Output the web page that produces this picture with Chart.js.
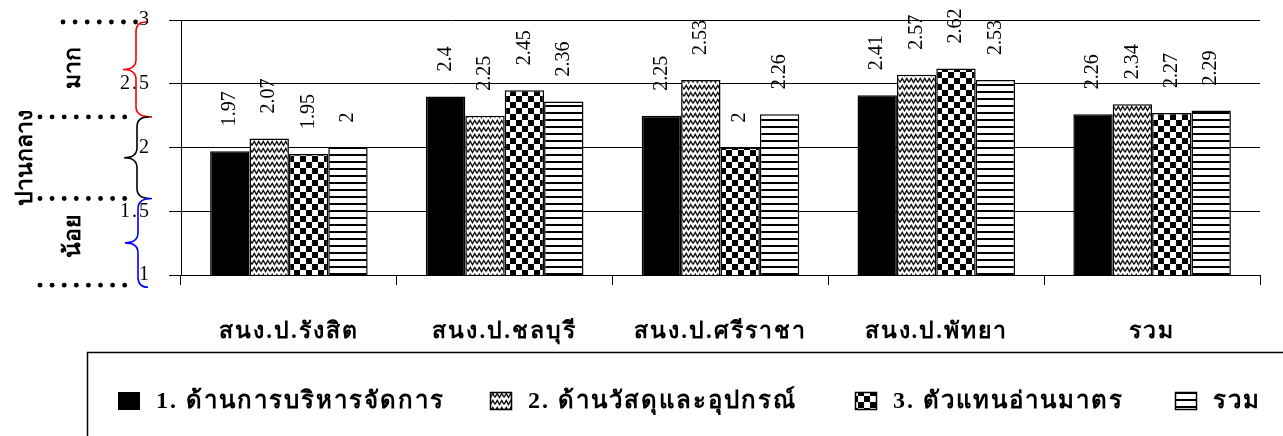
<!DOCTYPE html>
<html>
<head>
<meta charset="utf-8">
<script src="https://cdn.jsdelivr.net/npm/chart.js@4/dist/chart.umd.min.js"></script>
<style>
  html, body { margin: 0; padding: 0; background: #fff; }
  #wrap { width: 1283px; height: 436px; }
</style>
</head>
<body>
<div id="wrap"><canvas id="c" width="1283" height="436"></canvas></div>
<script>
// Offices and satisfaction scores per aspect
const categories = ['สนง.ป.รังสิต', 'สนง.ป.ชลบุรี', 'สนง.ป.ศรีราชา', 'สนง.ป.พัทยา', 'รวม'];
const seriesNames = ['1. ด้านการบริหารจัดการ', '2. ด้านวัสดุและอุปกรณ์', '3. ตัวแทนอ่านมาตร', 'รวม'];
const management = [1.97, 2.4, 2.25, 2.41, 2.26];
const materials = [2.07, 2.25, 2.53, 2.57, 2.34];
const meterReaders = [1.95, 2.45, 2, 2.62, 2.27];
const overall = [2, 2.36, 2.26, 2.53, 2.29];
const yTicks = [1, 1.5, 2, 2.5, 3];

// Interpretation bands shown beside the value axis
const levelNames = ['มาก', 'ปานกลาง', 'น้อย'];
const levelBounds = [3, 2.24, 1.6, 0.92];
const levelColors = ['#ff0000', '#000000', '#0000ff'];

const SERIF = "'Liberation Serif', 'Times New Roman', serif";

// ---- fill patterns ----
function makeTile(w, h, draw) {
  const c = document.createElement('canvas');
  c.width = w; c.height = h;
  const g = c.getContext('2d');
  g.fillStyle = '#fff';
  g.fillRect(0, 0, w, h);
  draw(g);
  return c;
}
const ctx0 = document.getElementById('c').getContext('2d');
const waveTile = makeTile(9, 7, g => {
  g.strokeStyle = '#111';
  g.lineWidth = 1.4;
  g.beginPath();
  g.moveTo(0, 5.5); g.lineTo(2.25, 1.5); g.lineTo(4.5, 5.5); g.lineTo(6.75, 1.5); g.lineTo(9, 5.5);
  g.stroke();
});
const checkTile = makeTile(12, 12, g => {
  g.fillStyle = '#000';
  g.fillRect(0, 0, 6, 6);
  g.fillRect(6, 6, 6, 6);
});
const stripeTile = makeTile(8, 7, g => {
  g.fillStyle = '#000';
  g.fillRect(0, 0, 8, 2);
});
const fills = [
  '#000000',
  ctx0.createPattern(waveTile, 'repeat'),
  ctx0.createPattern(checkTile, 'repeat'),
  ctx0.createPattern(stripeTile, 'repeat')
];
const seriesValues = [management, materials, meterReaders, overall];

// ---- plugins ----
const valueLabels = {
  id: 'valueLabels',
  afterDatasetsDraw(chart) {
    const ctx = chart.ctx;
    ctx.save();
    ctx.font = '20px ' + SERIF;
    ctx.fillStyle = '#000';
    ctx.textAlign = 'left';
    ctx.textBaseline = 'middle';
    chart.data.datasets.forEach((ds, i) => {
      chart.getDatasetMeta(i).data.forEach((bar, j) => {
        ctx.save();
        ctx.translate(bar.x, bar.y - 25);
        ctx.rotate(-Math.PI / 2);
        ctx.fillText(String(ds.data[j]), 0, 0);
        ctx.restore();
      });
    });
    ctx.restore();
  }
};

function brace(ctx, yTop, yBot, stemX, tipX, endTopX, endBotX) {
  const mid = (yTop + yBot) / 2;
  const r = 10;
  ctx.beginPath();
  ctx.moveTo(endTopX, yTop);
  ctx.quadraticCurveTo(stemX, yTop, stemX, yTop + r);
  ctx.lineTo(stemX, mid - r);
  ctx.quadraticCurveTo(stemX, mid, tipX, mid);
  ctx.quadraticCurveTo(stemX, mid, stemX, mid + r);
  ctx.lineTo(stemX, yBot - r);
  ctx.quadraticCurveTo(stemX, yBot, endBotX, yBot);
  ctx.stroke();
}

const levelBands = {
  id: 'levelBands',
  afterDraw(chart) {
    const ctx = chart.ctx;
    const y = chart.scales.y;
    ctx.save();
    // dotted guide rows
    ctx.fillStyle = '#000';
    levelBounds.forEach((v, i) => {
      const py = y.getPixelForValue(v);
      const startX = i === 0 ? 63 : 40;
      const n = i === 0 ? 7 : 8;
      for (let k = 0; k < n; k++) {
        ctx.beginPath();
        ctx.arc(startX + k * 12.1, py + (i === 0 ? 2 : 0), 2.4, 0, Math.PI * 2);
        ctx.fill();
      }
    });
    // braces
    ctx.lineWidth = 1.6;
    levelNames.forEach((name, i) => {
      const t = y.getPixelForValue(levelBounds[i]) + (i === 0 ? 2 : 0);
      const b = y.getPixelForValue(levelBounds[i + 1]) + (i === 2 ? 2 : 0);
      ctx.strokeStyle = levelColors[i];
      brace(ctx, t, b, 136 + i, 123 + i, 146 + 3 * i, 152 - i * 2);
    });
    // band names
    ctx.fillStyle = '#000';
    ctx.font = 'bold 23px ' + SERIF;
    ctx.textAlign = 'center';
    ctx.textBaseline = 'middle';
    const nameX = [74, 26, 74];
    levelNames.forEach((name, i) => {
      const t = y.getPixelForValue(levelBounds[i]);
      const b = y.getPixelForValue(levelBounds[i + 1]);
      ctx.save();
      ctx.translate(nameX[i], (t + b) / 2 - (i === 2 ? 5 : 0));
      ctx.rotate(-Math.PI / 2);
      ctx.fillText(name, 0, 0);
      ctx.restore();
    });
    ctx.restore();
  }
};

const boxedLegend = {
  id: 'boxedLegend',
  afterDraw(chart) {
    const ctx = chart.ctx;
    ctx.save();
    ctx.strokeStyle = '#000';
    ctx.lineWidth = 1.5;
    ctx.beginPath();
    ctx.moveTo(87.5, 440);
    ctx.lineTo(87.5, 352.5);
    ctx.lineTo(1290, 352.5);
    ctx.stroke();
    const iconX = [118, 490, 855, 1175];
    ctx.font = 'bold 24px ' + SERIF;
    ctx.letterSpacing = '2px';
    ctx.textAlign = 'left';
    ctx.textBaseline = 'middle';
    chart.data.datasets.forEach((ds, i) => {
      const x = iconX[i];
      ctx.fillStyle = ds.backgroundColor;
      ctx.fillRect(x, 392, 22, 18);
      if (i > 0) {
        ctx.lineWidth = 1.5;
        ctx.strokeRect(x + 0.5, 392.5, 21, 17);
      }
      ctx.fillStyle = '#000';
      ctx.fillText(ds.label, x + 38, 402);
    });
    ctx.restore();
  }
};

// wider letter spacing for the category names under the axis
const axisLetterSpacing = {
  id: 'axisLetterSpacing',
  beforeDraw(chart) { chart.ctx.letterSpacing = '2px'; },
  afterDatasetsDraw(chart) { chart.ctx.letterSpacing = '0px'; }
};

new Chart(document.getElementById('c'), {
  type: 'bar',
  data: {
    labels: categories,
    datasets: seriesNames.map((name, i) => ({
      label: name,
      data: seriesValues[i],
      backgroundColor: fills[i],
      borderColor: '#000',
      borderWidth: 1.5,
      borderSkipped: false,
      categoryPercentage: 0.73,
      barPercentage: 1.0
    }))
  },
  options: {
    responsive: false,
    animation: false,
    devicePixelRatio: 1,
    layout: { padding: { top: 20, right: 23, bottom: 0, left: 0 } },
    plugins: {
      legend: { display: false },
      tooltip: { enabled: false }
    },
    scales: {
      x: {
        grid: { display: true, drawOnChartArea: false, offset: true, tickLength: 10, color: '#000' },
        border: { display: true, color: '#000', width: 1 },
        ticks: { color: '#000', padding: 33, font: { family: SERIF, size: 23, weight: 'bold' }, maxRotation: 0 },
        afterFit(scale) {
          scale.height = 161;
          scale.paddingLeft = 0; scale.paddingRight = 0;
        }
      },
      y: {
        min: 1,
        max: 3,
        afterBuildTicks(scale) { scale.ticks = yTicks.map(v => ({ value: v })); },
        grid: { color: '#000', tickLength: 12, lineWidth: 1 },
        border: { display: true, color: '#000', width: 1 },
        ticks: {
          color: '#000', padding: 18, font: { family: SERIF, size: 20 },
          callback: v => String(Number(v))
        },
        afterFit(scale) {
          scale.width = 181;
          scale.paddingTop = 0; scale.paddingBottom = 0;
        }
      }
    }
  },
  plugins: [axisLetterSpacing, valueLabels, levelBands, boxedLegend]
});
</script>
</body>
</html>
